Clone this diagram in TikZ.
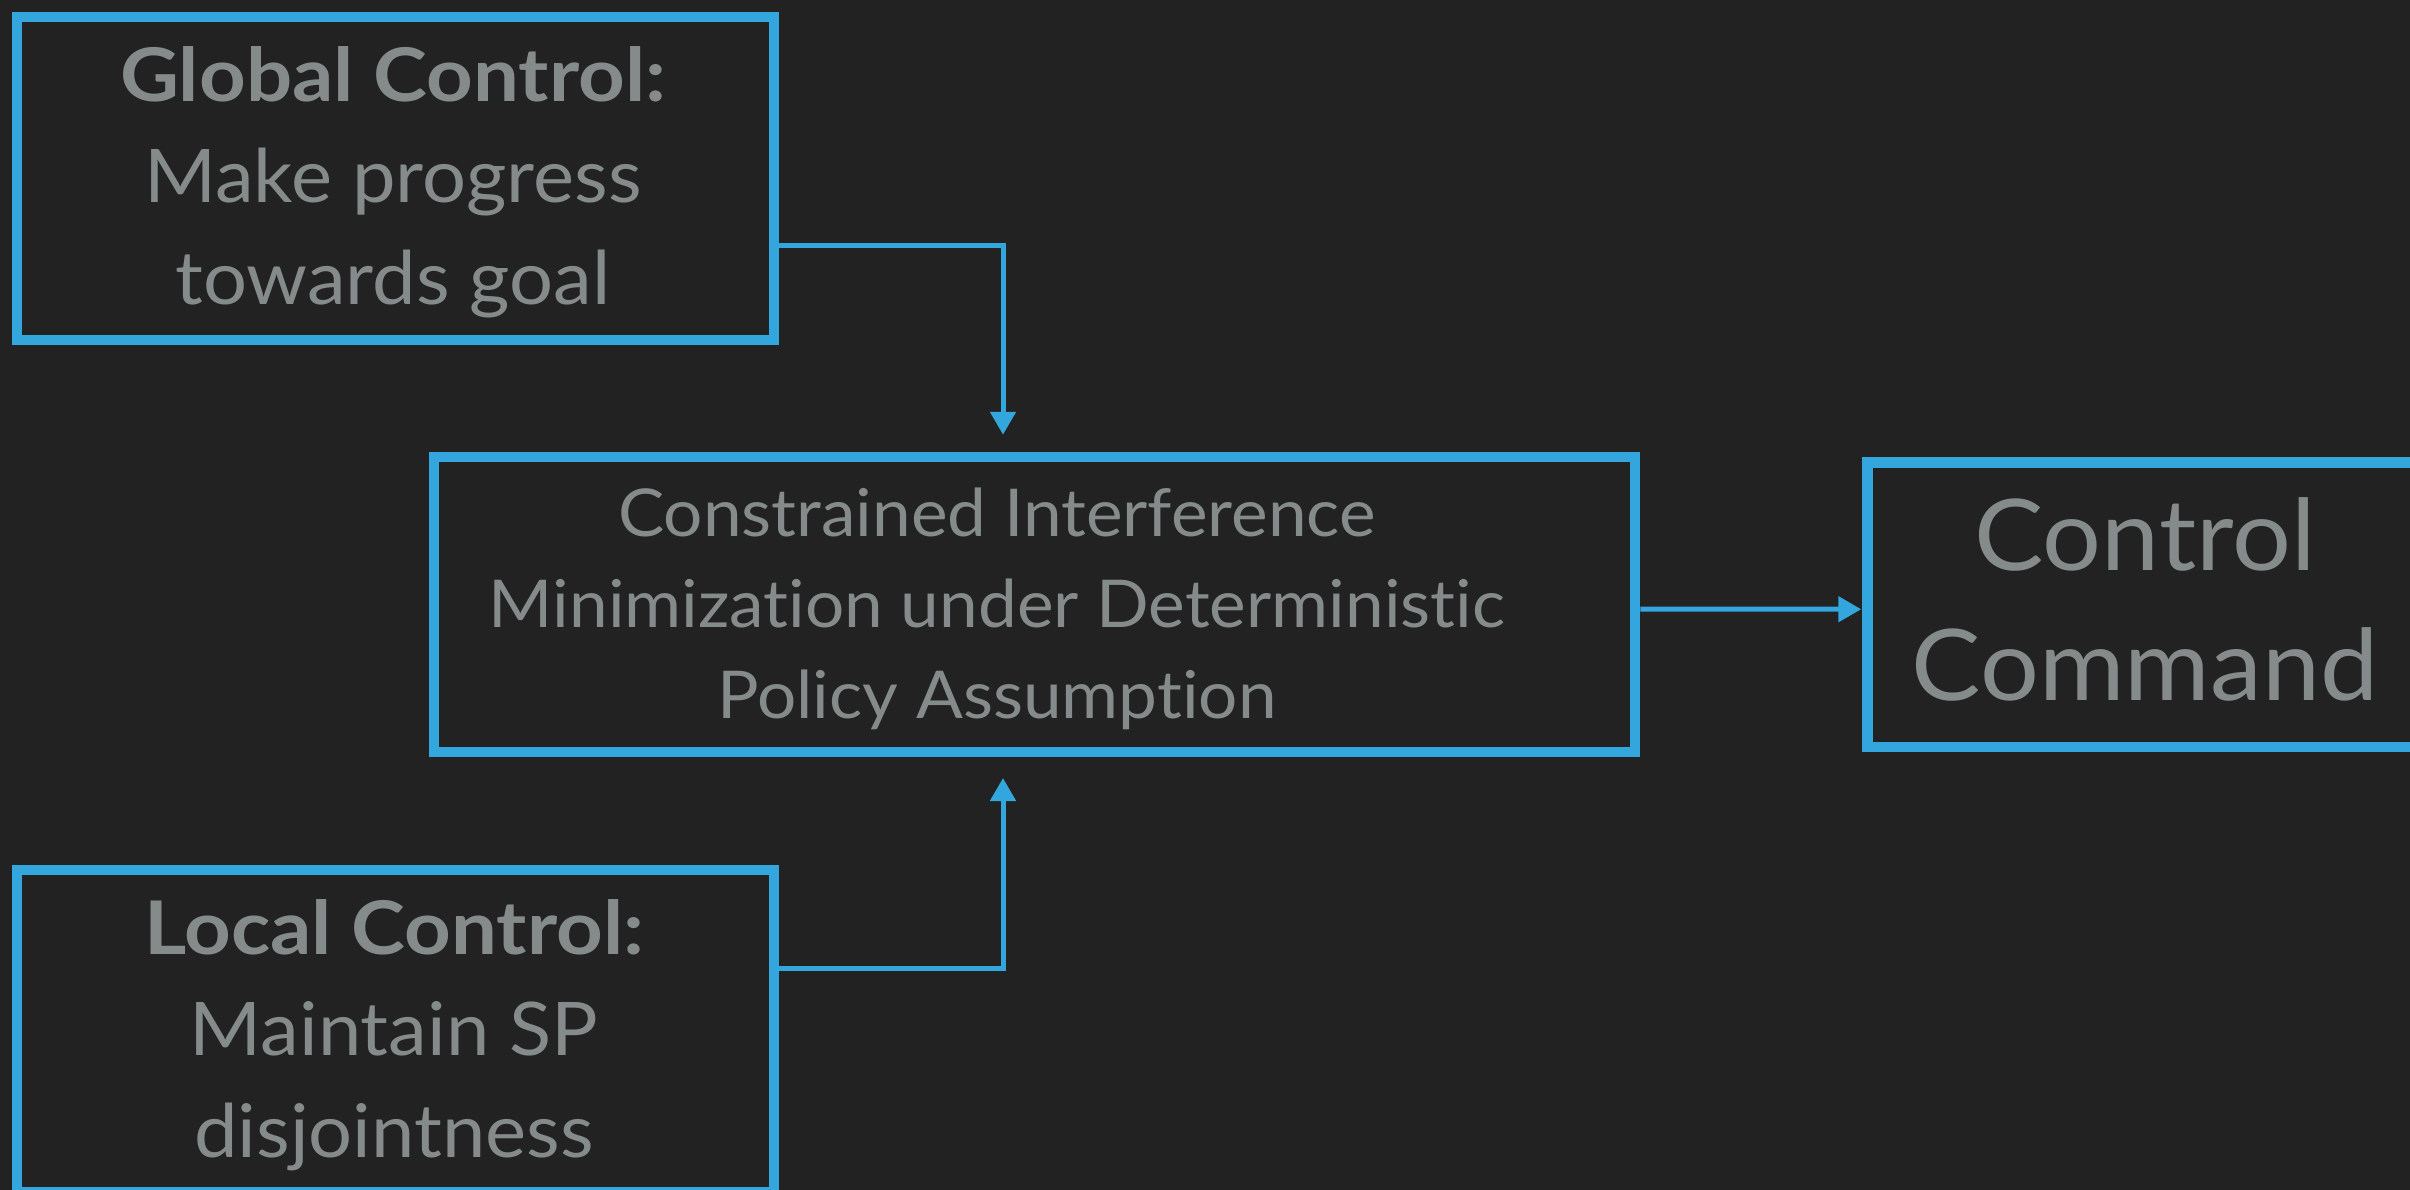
\documentclass[tikz,border=0pt]{standalone}
\usepackage{fontspec}
\setmainfont{Lato}[Ligatures=NoCommon, FakeStretch=1.05, BoldFeatures={FakeStretch=1.10}]
\usetikzlibrary{arrows.meta,calc}
\definecolor{bgdark}{HTML}{222222}
\definecolor{frameblue}{HTML}{34A6DE}
\definecolor{textgray}{HTML}{858A8B}
\begin{document}
\begin{tikzpicture}[x=1pt,y=-1pt,
  framebox/.style={draw=frameblue, line width=10.5pt, fill=bgdark, rectangle, inner sep=0pt},
  txt/.style={text=textgray, align=center, inner sep=0pt},
  conn/.style={draw=frameblue, line width=5pt, -{Triangle[length=23pt,width=25pt]}}]
\useasboundingbox (0,0) rectangle (2410,1190);
\fill[bgdark] (0,0) rectangle (2410,1190);
% boxes
\node[framebox, minimum width=757pt, minimum height=323pt] (gc) at (395.5,178.5) {};
\node[framebox, minimum width=757pt, minimum height=322pt] (lc) at (395.5,1031) {};
\node[framebox, minimum width=1201pt, minimum height=295pt] (cim) at (1034.5,604.5) {};
\node[framebox, minimum width=552.5pt, minimum height=284.5pt] (cc) at (2143.75,604.75) {};
% texts
\node[txt, font=\fontsize{74}{101.5}\selectfont] (gct) at (393,182) {\textbf{Global Control:}\\Make progress\\towards goal};
\node[txt, font=\fontsize{74}{101.5}\selectfont] (lct) at (394,1035) {\textbf{Local Control:}\\Maintain SP\\disjointness};
\node[txt, font=\fontsize{66}{91}\selectfont] (cimt) at (997,608.5) {Constrained Interference\\Minimization under Deterministic\\Policy Assumption};
\node[txt, font=\fontsize{99}{130}\selectfont] (cct) at (2145,599) {Control\\Command};
% connectors
\draw[conn, shorten >=17pt] ([yshift=-67pt]gc.east) -| ([xshift=-31.5pt]cim.north);
\draw[conn, shorten >=20.75pt] ([yshift=62.3pt]lc.east) -| ([xshift=-31.5pt]cim.south);
\draw[conn, shorten >=1pt] ([yshift=-4.5pt]cim.east) -- ([yshift=-4.5pt]cc.west);
\end{tikzpicture}
\end{document}
